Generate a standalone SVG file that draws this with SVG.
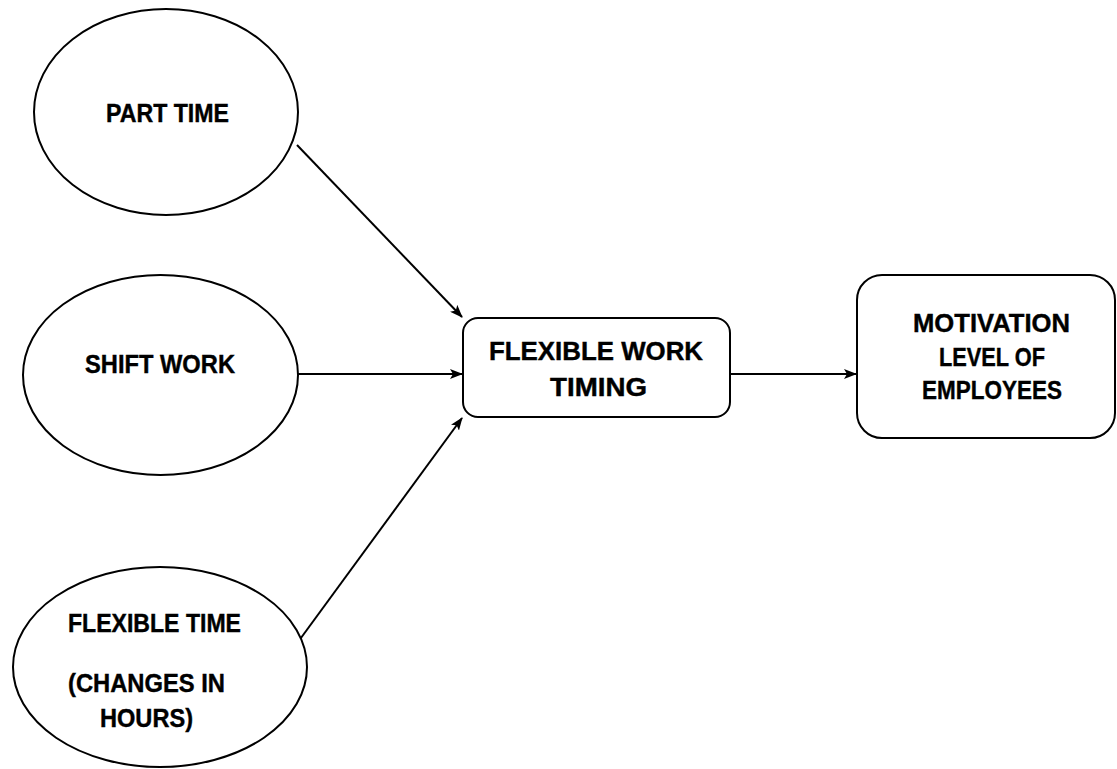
<svg xmlns="http://www.w3.org/2000/svg" width="1117" height="769" viewBox="0 0 1117 769">
<style>
.shape{fill:#fff;stroke:#000;stroke-width:2}
.lbl{font-family:"Liberation Sans",Arial,sans-serif;font-weight:bold;font-size:25px;fill:#000;stroke:#000;stroke-width:0.4}
.conn{stroke:#000;stroke-width:2;fill:none;marker-end:url(#arr)}
</style>
<defs>
<marker id="arr" viewBox="0 0 13 10" refX="12" refY="5" markerWidth="13" markerHeight="10" markerUnits="userSpaceOnUse" orient="auto">
<path d="M0,0 L13,5 L0,10 L3,5 Z" fill="#000"/>
</marker>
</defs>
<rect width="1117" height="769" fill="#fff"/>
<g id="connectors">
<line class="conn" x1="297" y1="145" x2="462" y2="317"/>
<line class="conn" x1="298" y1="374" x2="462" y2="374"/>
<line class="conn" x1="298" y1="642" x2="462" y2="418"/>
<line class="conn" x1="730" y1="374" x2="856" y2="374"/>
</g>
<g id="part-time">
<ellipse class="shape" cx="166" cy="112" rx="132" ry="103"/>
<text class="lbl" x="106" y="122" textLength="123" lengthAdjust="spacingAndGlyphs">PART TIME</text>
</g>
<g id="shift-work">
<ellipse class="shape" cx="160.5" cy="375" rx="137.5" ry="100"/>
<text class="lbl" x="85" y="373" textLength="150" lengthAdjust="spacingAndGlyphs">SHIFT WORK</text>
</g>
<g id="flexible-time">
<ellipse class="shape" cx="160" cy="667" rx="147" ry="100"/>
<text class="lbl" x="68" y="632" textLength="173" lengthAdjust="spacingAndGlyphs">FLEXIBLE TIME</text>
<text class="lbl" x="68" y="692" textLength="157" lengthAdjust="spacingAndGlyphs">(CHANGES IN</text>
<text class="lbl" x="100" y="727" textLength="93" lengthAdjust="spacingAndGlyphs">HOURS)</text>
</g>
<g id="flexible-work-timing">
<rect class="shape" x="463" y="318" width="267" height="99" rx="15" ry="15"/>
<text class="lbl" x="489" y="360" textLength="214" lengthAdjust="spacingAndGlyphs">FLEXIBLE WORK</text>
<text class="lbl" x="550" y="396" textLength="97" lengthAdjust="spacingAndGlyphs">TIMING</text>
</g>
<g id="motivation">
<rect class="shape" x="857" y="275" width="258" height="163" rx="25" ry="25"/>
<text class="lbl" x="913" y="332" textLength="157" lengthAdjust="spacingAndGlyphs">MOTIVATION</text>
<text class="lbl" x="939" y="366" textLength="106" lengthAdjust="spacingAndGlyphs">LEVEL OF</text>
<text class="lbl" x="922" y="399" textLength="140" lengthAdjust="spacingAndGlyphs">EMPLOYEES</text>
</g>
</svg>
